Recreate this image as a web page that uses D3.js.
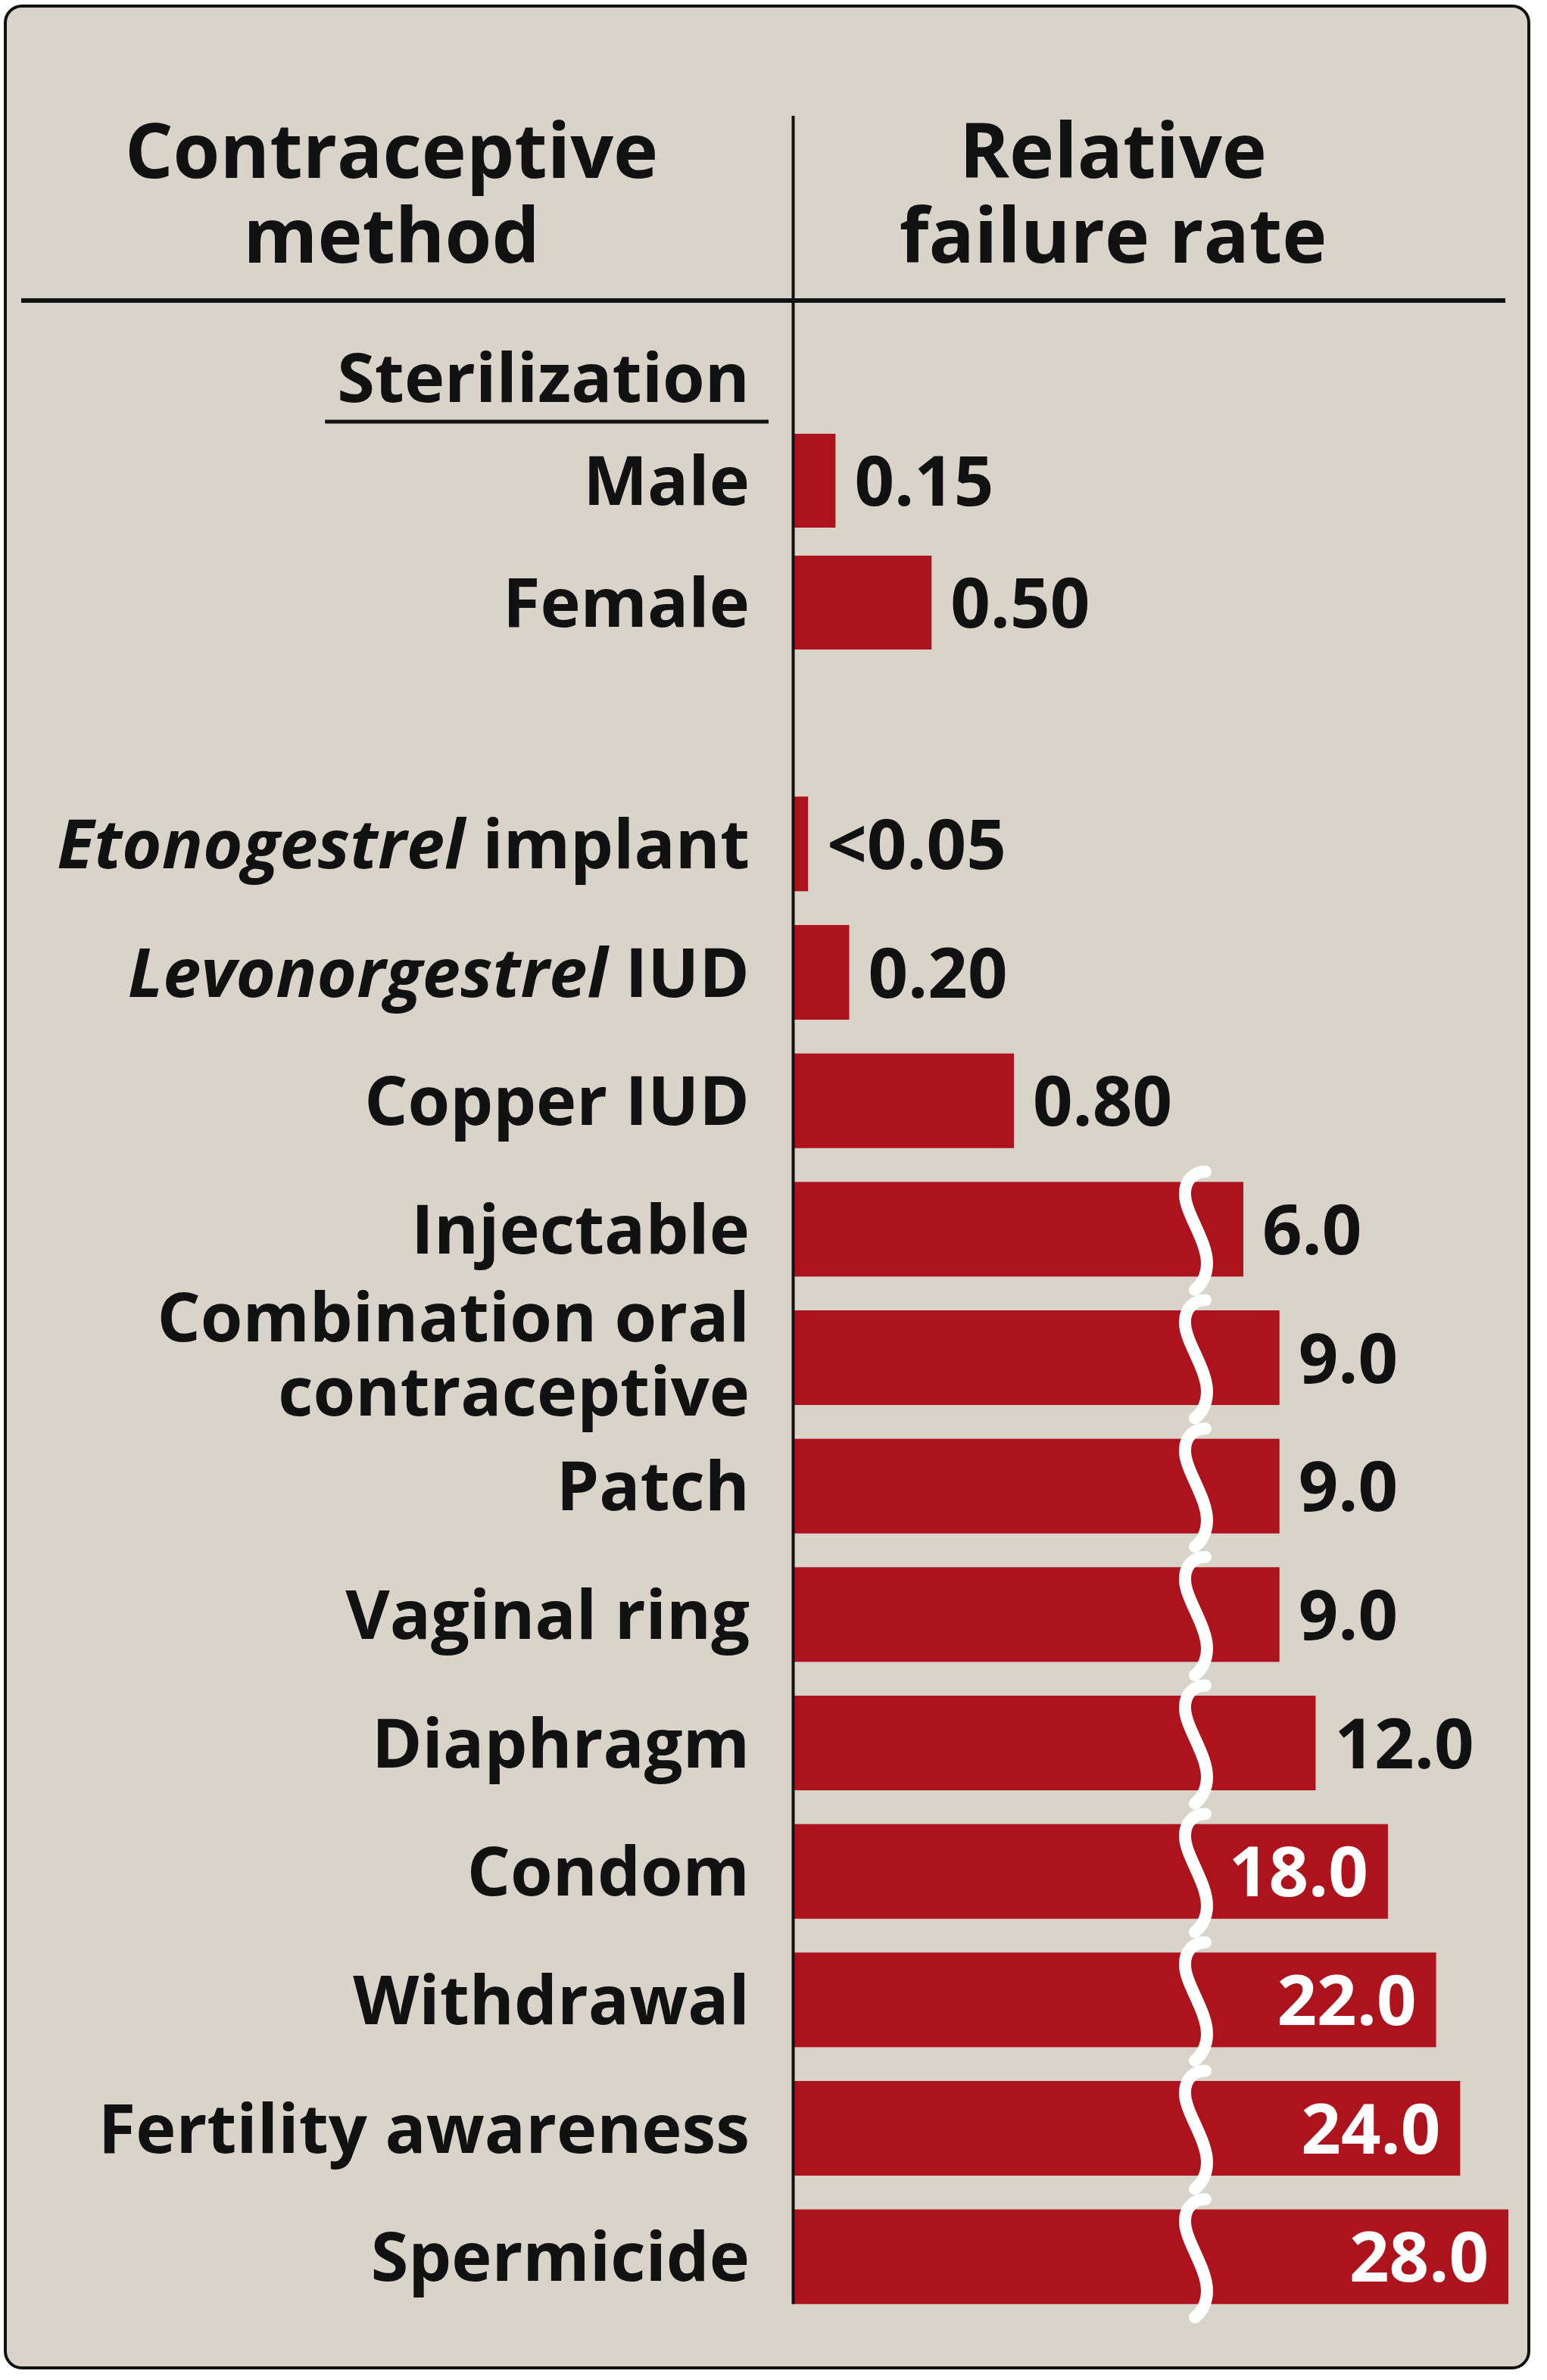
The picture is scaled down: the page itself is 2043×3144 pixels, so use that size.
<!DOCTYPE html>
<html>
<head>
<meta charset="utf-8">
<script src="https://cdn.jsdelivr.net/npm/d3@7"></script>
<style>
  body { margin: 0; background: #ffffff; }
  text { font-family: "Open Sans", "Noto Sans", sans-serif; font-weight: 700; fill: #111; }
</style>
</head>
<body>
<div id="chart"></div>
<script>
// data
const methods = ["Male", "Female", "Etonogestrel implant", "Levonorgestrel IUD", "Copper IUD",
    "Injectable", "Combination oral\ncontraceptive", "Patch", "Vaginal ring", "Diaphragm",
    "Condom", "Withdrawal", "Fertility awareness", "Spermicide"];
const failureRates = [0.15, 0.50, 0.05, 0.20, 0.80, 6.0, 9.0, 9.0, 9.0, 12.0, 18.0, 22.0, 24.0, 28.0];
const rateLabels = ["0.15", "0.50", "<0.05", "0.20", "0.80", "6.0", "9.0", "9.0", "9.0",
    "12.0", "18.0", "22.0", "24.0", "28.0"];
const sterilization = ["Male", "Female"];
const italicWords = ["Etonogestrel", "Levonorgestrel"];
const groupTitle = "Sterilization";
const headerLeft = ["Contraceptive", "method"];
const headerRight = ["Relative", "failure rate"];

const width = 2043, height = 3144;
const barColor = "#ad131c";
const labelX = 990;      // right edge of method labels
const x0 = 1049;         // bars start here
const panelRight = 1990;

const rows = methods.map((m, i) => ({method: m, value: failureRates[i], label: rateLabels[i]}));
const others = methods.filter(m => !sterilization.includes(m));

let svg = d3.select("#chart")
    .append("svg")
    .attr("width", width)
    .attr("height", height);

// panel
svg.append("rect")
    .attr("x", 7).attr("y", 8)
    .attr("width", 2012).attr("height", 3120)
    .attr("rx", 22)
    .attr("fill", "#d9d3c9")
    .attr("stroke", "#111")
    .attr("stroke-width", 4);

// scales: broken axis, a low segment and a high segment
const breakAt = 1;
const xLow = d3.scaleLinear().domain([0, 0.8]).range([x0, x0 + 290]);
const xHigh = d3.scaleLinear().domain([6, 28]).range([x0 + 593, x0 + 943]);
const breakX = x0 + 531;
const barEnd = v => v < breakAt ? xLow(v) : xHigh(v);

const ySter = d3.scaleBand().domain(sterilization)
    .range([554.5, 876.5]).paddingInner(0.23).paddingOuter(0.115);
const yMain = d3.scaleBand().domain(others)
    .range([1030, 3066]).paddingInner(0.263).paddingOuter(0.1315);
const yPos = m => sterilization.includes(m) ? ySter(m) : yMain(m);
const bandH = m => sterilization.includes(m) ? ySter.bandwidth() : yMain.bandwidth();
const yMid = m => yPos(m) + bandH(m) / 2;

// header, one text per column, lines as tspans
const header = svg.append("g").style("font-size", "100px").attr("text-anchor", "middle");
[[517, headerLeft], [1470, headerRight]].forEach(([cx, lines]) => {
    let t = header.append("text");
    lines.forEach((line, i) => t.append("tspan").attr("x", cx).attr("y", 235 + i * 112).text(line));
});

svg.append("line")
    .attr("x1", 28).attr("x2", 1988)
    .attr("y1", 397).attr("y2", 397)
    .attr("stroke", "#111").attr("stroke-width", 6);

// group title with underline
let gt = svg.append("text")
    .attr("x", labelX).attr("y", 531)
    .attr("text-anchor", "end")
    .style("font-size", "90px")
    .text(groupTitle);
let gtBox = gt.node().getBBox();
svg.append("line")
    .attr("x1", gtBox.x - 16).attr("x2", labelX + 25)
    .attr("y1", 557).attr("y2", 557)
    .attr("stroke", "#111").attr("stroke-width", 5);

// bars
svg.selectAll(".bar")
    .data(rows)
    .enter().append("rect")
    .attr("class", "bar")
    .attr("x", x0)
    .attr("y", d => yPos(d.method))
    .attr("width", d => barEnd(d.value) - x0)
    .attr("height", d => bandH(d.method))
    .attr("fill", barColor);

// break marks on bars past the axis break
const squiggle = (cx, cy) => {
    let p = d3.path();
    p.moveTo(cx + 12, cy - 76);
    p.bezierCurveTo(cx - 2, cy - 76, cx - 16, cy - 66, cx - 15, cy - 45);
    p.bezierCurveTo(cx - 14, cy - 20, cx + 14, cy + 15, cx + 14, cy + 45);
    p.bezierCurveTo(cx + 14, cy + 62, cx + 6, cy + 74, cx - 2, cy + 80);
    return p.toString();
};
svg.selectAll(".break")
    .data(rows.filter(d => d.value >= breakAt))
    .enter().append("path")
    .attr("class", "break")
    .attr("d", d => squiggle(breakX, yMid(d.method)))
    .attr("fill", "none")
    .attr("stroke", "#fff")
    .attr("stroke-width", 16)
    .attr("stroke-linecap", "round");

// axis line
svg.append("line")
    .attr("x1", 1047.5).attr("x2", 1047.5)
    .attr("y1", 153).attr("y2", yPos("Spermicide") + yMain.bandwidth())
    .attr("stroke", "#111").attr("stroke-width", 4);

// method labels (multi-line labels kept in one text element)
rows.forEach(d => {
    const lines = d.method.split("\n");
    let t = svg.append("text")
        .attr("text-anchor", "end")
        .style("font-size", "90px");
    lines.forEach((line, i) => {
        let ts = t.append("tspan")
            .attr("x", labelX)
            .attr("y", yMid(d.method) + 32 + (i - (lines.length - 1) / 2) * 98 - (lines.length > 1 ? 5 : 0));
        line.split(" ").forEach((w, j) => {
            ts.append("tspan")
                .style("font-style", italicWords.includes(w) ? "italic" : "normal")
                .text((j > 0 ? " " : "") + w);
        });
    });
});

// value labels, inside the bar when they would not fit outside
rows.forEach(d => {
    let t = svg.append("text")
        .attr("y", yMid(d.method) + 33)
        .style("font-size", "92px")
        .text(d.label);
    const w = t.node().getComputedTextLength();
    const end = barEnd(d.value);
    if (end + 25 + w > panelRight) {
        t.attr("x", end - 26).attr("text-anchor", "end").style("fill", "#fff");
    } else {
        t.attr("x", end + 25);
    }
});
</script>
</body>
</html>
